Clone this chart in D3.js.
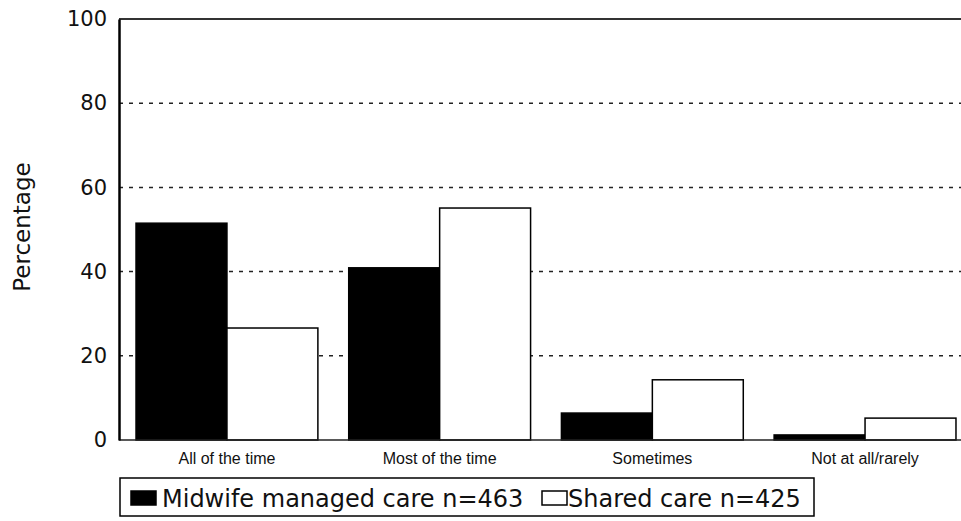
<!DOCTYPE html>
<html lang="en">
    <head>
        <meta charset="utf-8">
        <title>Percentage by care type</title>
        <script src="https://d3js.org/d3.v7.min.js"></script>
        <style type="text/css">
          body { margin: 0; background: #fff; }
          svg { width: 961px; height: 521px; display: block; }
          text { font-family: "DejaVu Sans", Arial, Helvetica, sans-serif; fill: #111; }
          .cats text { font-family: "Liberation Sans", Arial, sans-serif; }
          .legend { font-size: 24px; }
          .ytitle { font-size: 23px; }
        </style>
    </head>
    <body>
        <svg></svg>

        <script type="text/javascript">

        // data
        const categories = ["All of the time", "Most of the time", "Sometimes", "Not at all/rarely"];
        const seriesNames = ["Midwife managed care n=463", "Shared care n=425"];
        const midwife = [51.5, 40.9, 6.4, 1.2];
        const shared = [26.6, 55.1, 14.3, 5.2];
        const yTicks = [0, 20, 40, 60, 80, 100];

        const rows = categories.map((c, i) => ({cat: c, values: [midwife[i], shared[i]]}));

        const svg = d3.select("svg");

        // plot area
        const plotL = 119, plotT = 19, plotB = 440, plotR = 961;

        const y = d3.scaleLinear()
                    .domain([0, 100])
                    .range([plotB, plotT]);

        // bands are a bit wider than the visible area (last one runs off the edge)
        const x = d3.scaleBand()
                    .domain(categories)
                    .range([120.6, 971.4])
                    .paddingInner(0.145)
                    .paddingOuter(0.0725);

        const xs = d3.scaleBand()
                    .domain([0, 1])
                    .range([0, x.bandwidth()]);

        // dashed grid lines
        svg.append("g")
            .selectAll("line")
            .data(yTicks.filter(t => t > 0 && t < 100))
            .enter()
            .append("line")
            .attr("x1", plotL)
            .attr("x2", plotR)
            .attr("y1", d => y(d))
            .attr("y2", d => y(d))
            .attr("stroke", "#222")
            .attr("stroke-width", 1.5)
            .attr("stroke-dasharray", "4,6");

        // top border
        svg.append("line")
            .attr("x1", plotL).attr("x2", plotR)
            .attr("y1", y(100)).attr("y2", y(100))
            .attr("stroke", "#333")
            .attr("stroke-width", 2);

        // bars
        const g = svg.selectAll("g.cat")
                    .data(rows)
                    .enter()
                    .append("g")
                    .attr("class", "cat")
                    .attr("transform", d => "translate(" + x(d.cat) + ",0)");

        g.selectAll("rect")
            .data(d => d.values)
            .enter()
            .append("rect")
            .attr("x", (d, i) => xs(i))
            .attr("y", d => y(d))
            .attr("width", xs.bandwidth())
            .attr("height", d => y(0) - y(d))
            .attr("fill", (d, i) => i === 0 ? "#000" : "#fff")
            .attr("stroke", "#000")
            .attr("stroke-width", 1.5);

        // baseline
        svg.append("line")
            .attr("x1", plotL).attr("x2", plotR)
            .attr("y1", y(0)).attr("y2", y(0))
            .attr("stroke", "#222")
            .attr("stroke-width", 1.5);

        // y axis
        const yAxis = d3.axisLeft(y)
                        .tickValues(yTicks)
                        .tickSize(0)
                        .tickPadding(12);

        const ya = svg.append("g")
            .attr("transform", "translate(" + plotL + ",0)")
            .call(yAxis);
        ya.select(".domain").attr("stroke", "#000").attr("stroke-width", 2.5);
        ya.selectAll("text")
            .attr("font-size", 21)
            .attr("font-family", "DejaVu Sans, sans-serif")
            .attr("fill", "#111");

        // category labels
        const xAxis = d3.axisBottom(x).tickSize(0).tickPadding(13);
        const xa = svg.append("g")
            .attr("transform", "translate(0," + plotB + ")")
            .attr("class", "cats")
            .call(xAxis);
        xa.select(".domain").remove();
        xa.selectAll("text")
            .attr("font-size", 16)
            .attr("font-family", "Liberation Sans, Arial, sans-serif")
            .attr("fill", "#111");

        // y title
        svg.append("text")
            .attr("class", "ytitle")
            .attr("transform", "translate(30,227) rotate(-90)")
            .attr("text-anchor", "middle")
            .text("Percentage");

        // legend
        const lg = svg.append("g").attr("transform", "translate(120,478)");
        lg.append("rect")
            .attr("x", 0).attr("y", 0)
            .attr("width", 694).attr("height", 38)
            .attr("fill", "#fff")
            .attr("stroke", "#000")
            .attr("stroke-width", 1.5);

        const items = [
            {sx: 11, tx: 42, fill: "#000"},
            {sx: 422, tx: 448, fill: "#fff"}
        ];
        items.forEach((it, i) => {
            lg.append("rect")
                .attr("x", it.sx).attr("y", 13)
                .attr("width", 25).attr("height", 14)
                .attr("fill", it.fill)
                .attr("stroke", "#000")
                .attr("stroke-width", 1.5);
            lg.append("text")
                .attr("class", "legend")
                .attr("x", it.tx)
                .attr("y", 29)
                .text(seriesNames[i]);
        });

        </script>
    </body>
</html>
